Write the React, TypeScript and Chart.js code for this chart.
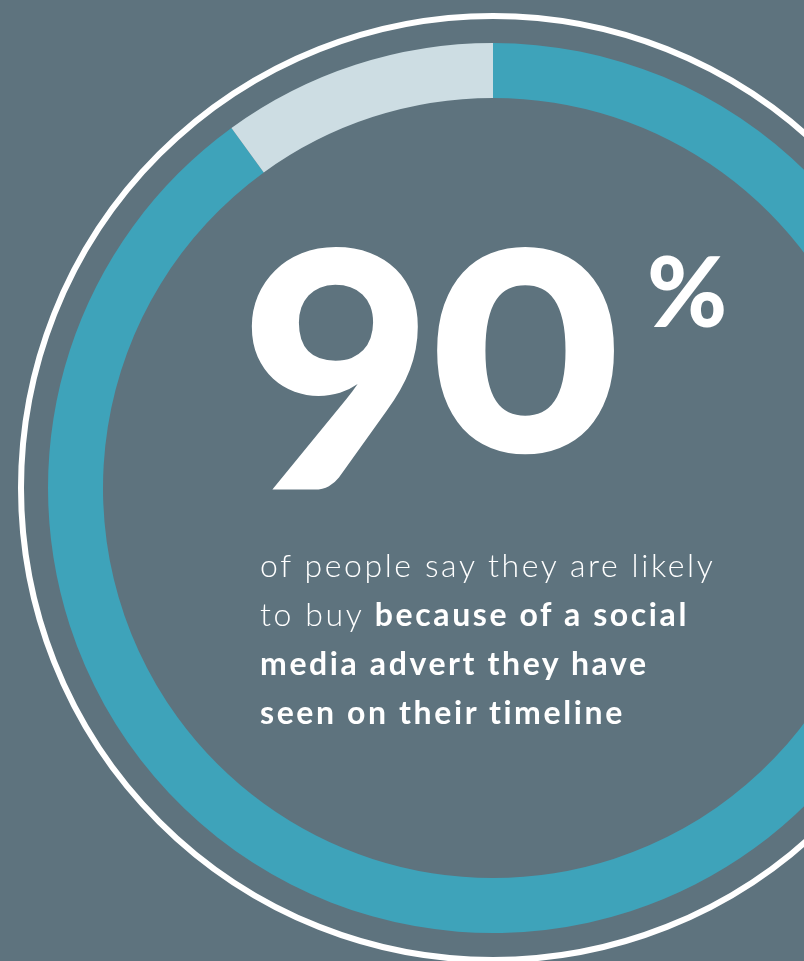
import React, { useEffect, useRef } from "react";
import { Chart, registerables } from "chart.js";

Chart.register(...registerables);

// Data
const categories: string[] = ["Likely to buy", "Not likely"];
const shareValues: number[] = [90, 10];
const sliceColors: string[] = ["#3ea3ba", "#cddde3"];
const bigNumber = "90";
const textLine1 = "of people say they are likely";
const textLine2Light = "to buy ";
const textLine2Bold = "because of a social";
const textLine3 = "media advert they have";
const textLine4 = "seen on their timeline";

const BG = "#5e737e";

const ringPlugin = {
  id: "outerRing",
  beforeDatasetsDraw(chart: any) {
    const { ctx, chartArea } = chart;
    const cx = (chartArea.left + chartArea.right) / 2;
    const cy = (chartArea.top + chartArea.bottom) / 2;
    ctx.save();
    ctx.beginPath();
    ctx.arc(cx, cy, 472, 0, Math.PI * 2);
    ctx.strokeStyle = "#ffffff";
    ctx.lineWidth = 6;
    ctx.stroke();
    ctx.restore();
  },
};

export default function App() {
  const canvasRef = useRef<HTMLCanvasElement | null>(null);

  useEffect(() => {
    if (!canvasRef.current) return;
    const chart = new Chart(canvasRef.current, {
      type: "doughnut",
      data: {
        labels: categories,
        datasets: [
          {
            data: shareValues,
            backgroundColor: sliceColors,
            borderWidth: 0,
            hoverOffset: 0,
          },
        ],
      },
      options: {
        responsive: false,
        maintainAspectRatio: false,
        animation: false,
        cutout: 390,
        layout: { padding: { left: 48, right: 48, top: 43, bottom: 43 } },
        plugins: {
          legend: { display: false },
          tooltip: { enabled: false },
        },
      },
      plugins: [ringPlugin],
    });
    return () => chart.destroy();
  }, []);

  return (
    <div
      style={{
        position: "fixed",
        left: 0,
        top: 0,
        width: 804,
        height: 961,
        overflow: "hidden",
        background: BG,
      }}
    >
      <canvas
        ref={canvasRef}
        width={986}
        height={976}
        style={{ position: "absolute", left: 0, top: 0, width: 986, height: 976 }}
      />
      <div
        style={{
          position: "absolute",
          left: 241,
          top: 138,
          fontFamily: "Lato, sans-serif",
          fontWeight: 900,
          fontSize: 355,
          lineHeight: 1,
          color: "#ffffff",
          letterSpacing: -3,
          fontVariantNumeric: "oldstyle-nums",
          whiteSpace: "nowrap",
        }}
      >
        {bigNumber}
      </div>
      <div
        style={{
          position: "absolute",
          left: 647,
          top: 241,
          fontFamily: "Lato, sans-serif",
          fontWeight: 900,
          fontSize: 97,
          lineHeight: 1,
          color: "#ffffff",
          whiteSpace: "nowrap",
        }}
      >
        %
      </div>
      <div
        style={{
          position: "absolute",
          left: 260,
          top: 540,
          fontFamily: "Lato, sans-serif",
          fontSize: 32,
          letterSpacing: 2.6,
          lineHeight: "49px",
          color: "#ffffff",
          whiteSpace: "nowrap",
        }}
      >
        <span style={{ fontWeight: 300 }}>{textLine1}</span>
        <br />
        <span style={{ fontWeight: 300 }}>{textLine2Light}</span>
        <span style={{ fontWeight: 700 }}>{textLine2Bold}</span>
        <br />
        <span style={{ fontWeight: 700 }}>{textLine3}</span>
        <br />
        <span style={{ fontWeight: 700 }}>{textLine4}</span>
      </div>
    </div>
  );
}
